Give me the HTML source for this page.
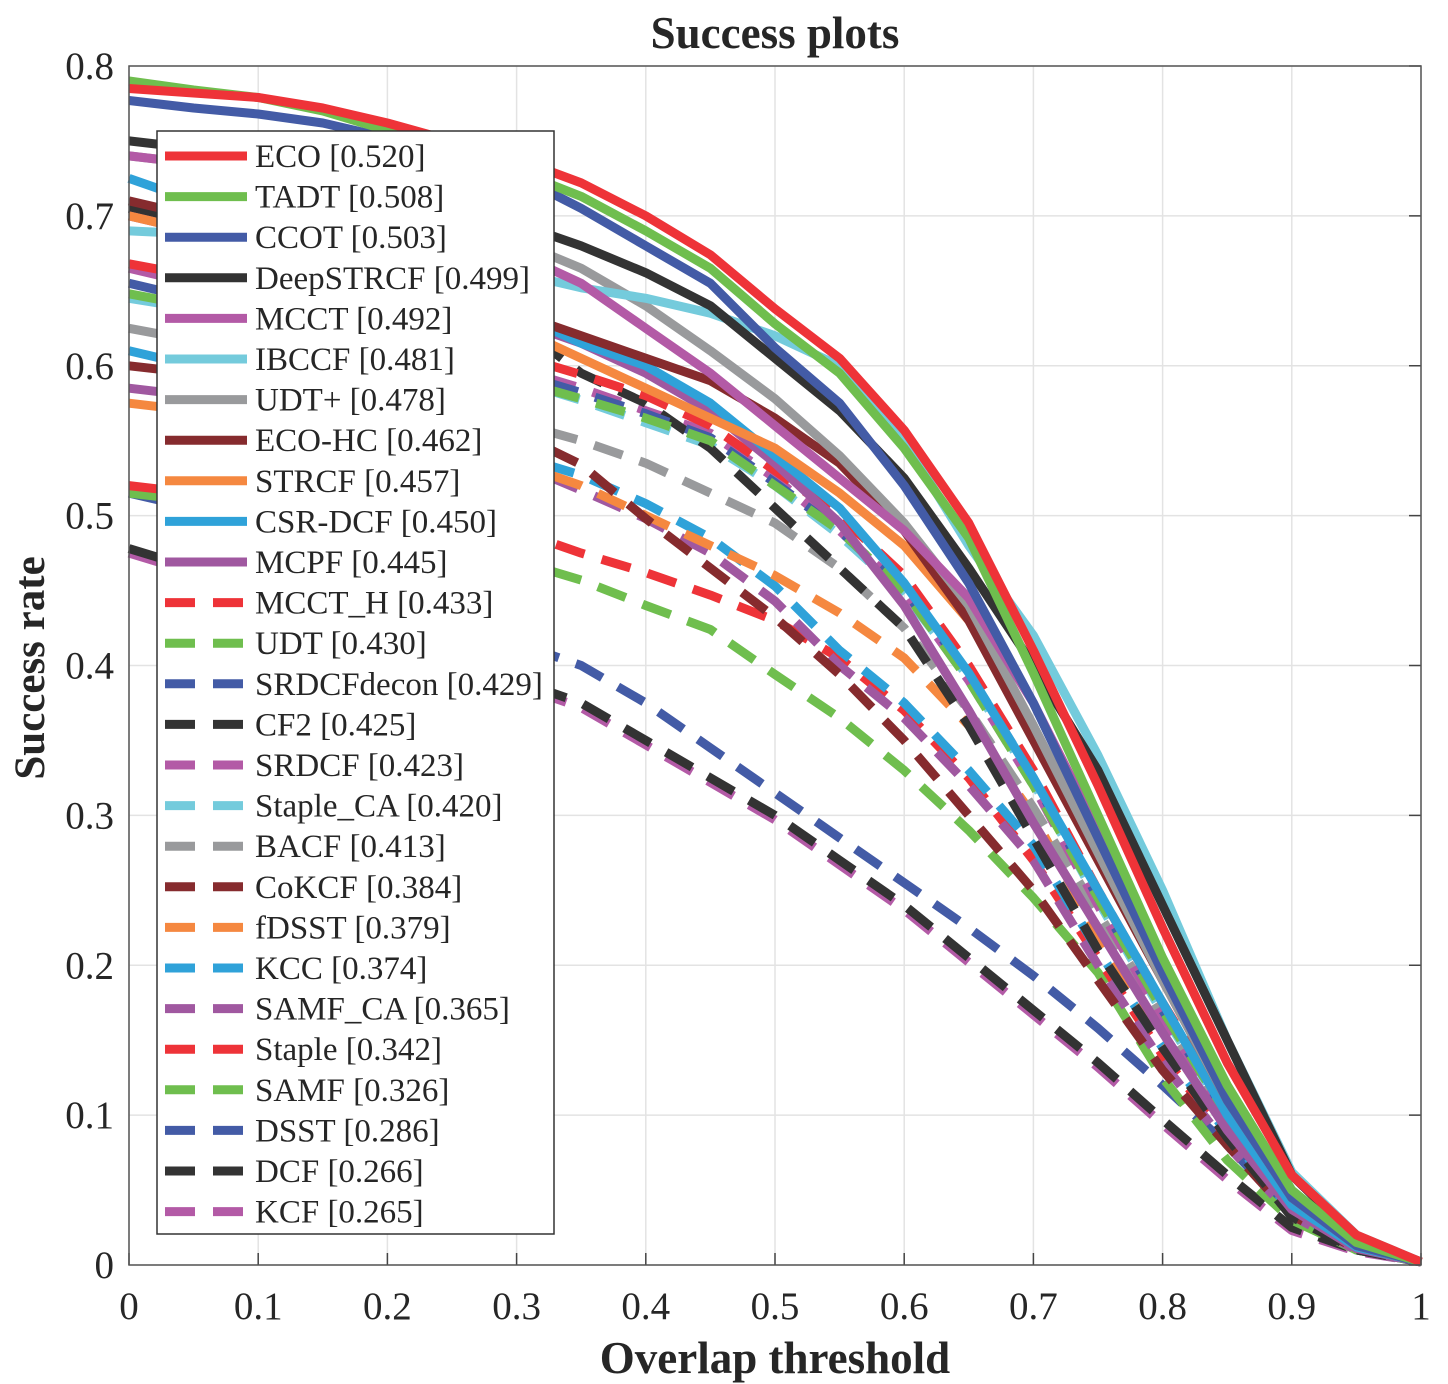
<!DOCTYPE html>
<html><head><meta charset="utf-8"><style>
html,body{margin:0;padding:0;background:#fff;}
svg{display:block;font-family:"Liberation Serif",serif;}
</style></head><body>
<svg id="chart" width="1448" height="1384" viewBox="0 0 1448 1384" xmlns="http://www.w3.org/2000/svg">
<text x="775" y="48" text-anchor="middle" font-size="45" font-weight="bold" fill="#262626">Success plots</text>
<text x="775" y="1373" text-anchor="middle" font-size="45" font-weight="bold" fill="#262626">Overlap threshold</text>
<text transform="translate(44,668) rotate(-90)" text-anchor="middle" font-size="43" font-weight="bold" fill="#262626">Success rate</text>
<g id="grid"></g>
<g id="series"></g>
<g id="axes"></g>
<g id="legend"></g>
</svg>
<script>
const xs=[0,0.05,0.1,0.15,0.2,0.25,0.3,0.35,0.4,0.45,0.5,0.55,0.6,0.65,0.7,0.75,0.8,0.85,0.9,0.95,1];
const xTicks=[0,0.1,0.2,0.3,0.4,0.5,0.6,0.7,0.8,0.9,1];
const xTickLabels=["0","0.1","0.2","0.3","0.4","0.5","0.6","0.7","0.8","0.9","1"];
const yTicks=[0,0.1,0.2,0.3,0.4,0.5,0.6,0.7,0.8];
const yTickLabels=["0","0.1","0.2","0.3","0.4","0.5","0.6","0.7","0.8"];
const names=["ECO [0.520]","TADT [0.508]","CCOT [0.503]","DeepSTRCF [0.499]","MCCT [0.492]","IBCCF [0.481]","UDT+ [0.478]","ECO-HC [0.462]","STRCF [0.457]","CSR-DCF [0.450]","MCPF [0.445]","MCCT_H [0.433]","UDT [0.430]","SRDCFdecon [0.429]","CF2 [0.425]","SRDCF [0.423]","Staple_CA [0.420]","BACF [0.413]","CoKCF [0.384]","fDSST [0.379]","KCC [0.374]","SAMF_CA [0.365]","Staple [0.342]","SAMF [0.326]","DSST [0.286]","DCF [0.266]","KCF [0.265]"];
const colors=["#ee3338","#6fbe4e","#435ba6","#333333","#b35aa6","#74cbdc","#999a9c","#862b2e","#f58840","#2fa2d9","#a058a0","#ee3338","#6fbe4e","#435ba6","#333333","#b35aa6","#74cbdc","#999a9c","#862b2e","#f58840","#2fa2d9","#a058a0","#ee3338","#6fbe4e","#435ba6","#333333","#b35aa6"];
const dashed=[0,0,0,0,0,0,0,0,0,0,0,1,1,1,1,1,1,1,1,1,1,1,1,1,1,1,1];
const sECO=[.785,.782,.779,.772,.762,.750,.738,.722,.700,.674,.638,.605,.557,.495,.410,.320,.225,.135,.060,.020,.002];
const sTADT=[.790,.784,.779,.770,.757,.745,.730,.713,.690,.665,.628,.595,.545,.485,.395,.300,.205,.120,.050,.015,.002];
const sCCOT=[.777,.772,.768,.762,.752,.742,.727,.705,.680,.655,.612,.575,.520,.455,.375,.285,.195,.110,.045,.013,.002];
const sDeepSTRCF=[.750,.745,.738,.728,.718,.708,.695,.680,.662,.640,.605,.570,.525,.465,.400,.330,.240,.150,.060,.018,.002];
const sMCCT=[.740,.735,.728,.718,.705,.690,.675,.655,.625,.595,.560,.525,.490,.445,.375,.290,.200,.115,.048,.014,.002];
const sIBCCF=[.690,.688,.684,.680,.675,.670,.662,.652,.645,.635,.620,.600,.550,.480,.420,.340,.250,.150,.062,.020,.002];
const sUDTplus=[.740,.735,.728,.718,.706,.695,.683,.665,.640,.610,.578,.540,.495,.440,.360,.275,.190,.110,.045,.013,.002];
const sECOHC=[.71,.70,.69,.675,.66,.648,.635,.62,.605,.59,.565,.535,.49,.43,.35,.27,.19,.11,.045,.013,.002];
const sSTRCF=[.70,.69,.68,.665,.65,.637,.625,.605,.585,.565,.545,.515,.48,.43,.355,.28,.20,.12,.048,.014,.002];
const sCSRDCF=[.725,.71,.695,.68,.665,.65,.635,.615,.60,.575,.54,.505,.455,.395,.325,.25,.175,.10,.04,.012,.002];
const sMCPF=[.70,.69,.68,.67,.655,.645,.63,.615,.595,.57,.535,.495,.44,.37,.295,.225,.155,.09,.037,.011,.002];
const sMCCTH=[.668,.66,.652,.642,.632,.62,.607,.594,.58,.56,.53,.50,.46,.40,.33,.25,.175,.105,.045,.013,.002];
const sUDT=[.648,.64,.632,.622,.612,.60,.59,.578,.565,.55,.52,.49,.45,.39,.32,.245,.17,.10,.042,.012,.002];
const sSRDCFdecon=[.655,.645,.637,.627,.617,.606,.595,.582,.568,.552,.522,.49,.45,.395,.325,.245,.17,.10,.042,.012,.002];
const sCF2=[.705,.695,.685,.672,.66,.645,.628,.595,.575,.545,.505,.465,.425,.36,.285,.21,.145,.085,.032,.01,.002];
const sSRDCF=[.665,.655,.645,.635,.622,.61,.598,.585,.57,.555,.525,.49,.45,.39,.32,.24,.165,.098,.04,.012,.002];
const sStapleCA=[.645,.638,.630,.62,.61,.6,.59,.577,.562,.547,.52,.487,.448,.392,.322,.243,.168,.1,.042,.012,.002];
const sBACF=[.625,.617,.608,.598,.587,.575,.562,.55,.535,.515,.495,.465,.425,.37,.305,.235,.165,.1,.042,.012,.002];
const sCoKCF=[.60,.595,.59,.585,.578,.57,.555,.534,.498,.465,.432,.394,.35,.30,.25,.19,.13,.08,.033,.011,.002];
const sfDSST=[.575,.57,.565,.56,.555,.548,.535,.52,.50,.48,.46,.435,.405,.36,.30,.22,.15,.09,.036,.011,.002];
const sKCC=[.61,.60,.59,.58,.57,.555,.54,.527,.508,.485,.453,.41,.375,.33,.28,.21,.145,.088,.036,.011,.002];
const sSAMFCA=[.585,.58,.572,.565,.558,.55,.535,.517,.498,.475,.443,.40,.365,.32,.27,.2,.135,.08,.033,.01,.002];
const sStaple=[.52,.515,.51,.505,.5,.495,.49,.475,.462,.447,.43,.405,.37,.325,.27,.205,.14,.085,.035,.011,.002];
const sSAMF=[.515,.51,.505,.5,.493,.485,.47,.457,.44,.424,.394,.365,.33,.29,.245,.195,.125,.07,.03,.01,.002];
const sDSST=[.515,.505,.49,.475,.458,.44,.415,.40,.375,.345,.315,.285,.255,.225,.193,.158,.12,.08,.035,.01,.002];
const sDCF=[.478,.465,.45,.435,.42,.405,.39,.375,.35,.325,.30,.27,.24,.205,.17,.135,.097,.06,.025,.01,.002];
const sKCF=[.475,.462,.447,.432,.417,.402,.387,.372,.347,.322,.297,.267,.237,.202,.167,.132,.094,.057,.023,.009,.002];
const seriesData=[sECO,sTADT,sCCOT,sDeepSTRCF,sMCCT,sIBCCF,sUDTplus,sECOHC,sSTRCF,sCSRDCF,sMCPF,sMCCTH,sUDT,sSRDCFdecon,sCF2,sSRDCF,sStapleCA,sBACF,sCoKCF,sfDSST,sKCC,sSAMFCA,sStaple,sSAMF,sDSST,sDCF,sKCF];

const NS="http://www.w3.org/2000/svg";
const X0=129,X1=1421,Y0=1265,Y1=66;
function sx(v){return X0+(X1-X0)*v;}
function sy(v){return Y0-(Y0-Y1)*v/0.8;}
function mk(tag,attrs,parent){const e=document.createElementNS(NS,tag);for(const k in attrs)e.setAttribute(k,attrs[k]);parent.appendChild(e);return e;}
const grid=document.getElementById('grid'),axes=document.getElementById('axes'),ser=document.getElementById('series'),leg=document.getElementById('legend');
mk('rect',{x:X0,y:Y1,width:X1-X0,height:Y0-Y1,fill:'#fff'},grid);
xTicks.forEach((t,i)=>{
  const l=mk('line',{x1:sx(t),x2:sx(t),y1:Y1,y2:Y0,stroke:'#e3e3e3','stroke-width':1.5},grid);
  
  
  const tk=mk('line',{x1:sx(t),x2:sx(t),y1:Y0,y2:Y0-12,stroke:'#444','stroke-width':1.5},axes);
  
  
  const tx=mk('text',{x:sx(t),y:1319,'text-anchor':'middle','font-size':39,fill:'#262626'},axes);
  tx.textContent=xTickLabels[i];
  
  
});
yTicks.forEach((t,i)=>{
  const l=mk('line',{x1:X0,x2:X1,y1:sy(t),y2:sy(t),stroke:'#e3e3e3','stroke-width':1.5},grid);
  
  
  const tk=mk('line',{x1:X1,x2:X1-12,y1:sy(t),y2:sy(t),stroke:'#444','stroke-width':1.5},axes);
  
  
  const tx=mk('text',{x:114,y:sy(t)+13,'text-anchor':'end','font-size':39,fill:'#262626'},axes);
  tx.textContent=yTickLabels[i];
  
  
});
const frame=mk('rect',{x:X0,y:Y1,width:X1-X0,height:Y0-Y1,fill:'none',stroke:'#555','stroke-width':1.5},axes);


for(let i=seriesData.length-1;i>=0;i--){
  const d=seriesData[i].map((v,j)=>(j?'L':'M')+sx(xs[j]).toFixed(1)+' '+sy(v).toFixed(1)).join(' ');
  const p=mk('path',{d:d,fill:'none',stroke:colors[i],'stroke-width':9,'stroke-linejoin':'round'},ser);
  if(dashed[i])p.setAttribute('stroke-dasharray','30 18');
  
  
}
const lb=mk('rect',{x:157,y:131,width:397,height:1103,fill:'#fff',stroke:'#333','stroke-width':1.5},leg);


names.forEach((n,i)=>{
  const y=156+i*40.6;
  const g=mk('g',{},leg);
  
  
  const l=mk('line',{x1:165,x2:247,y1:y,y2:y,stroke:colors[i],'stroke-width':9},g);
  if(dashed[i])l.setAttribute('stroke-dasharray','30 18');
  const t=mk('text',{x:255,y:y+11,'font-size':33,fill:'#262626'},g);
  t.textContent=n;
});
</script>
</body></html>
